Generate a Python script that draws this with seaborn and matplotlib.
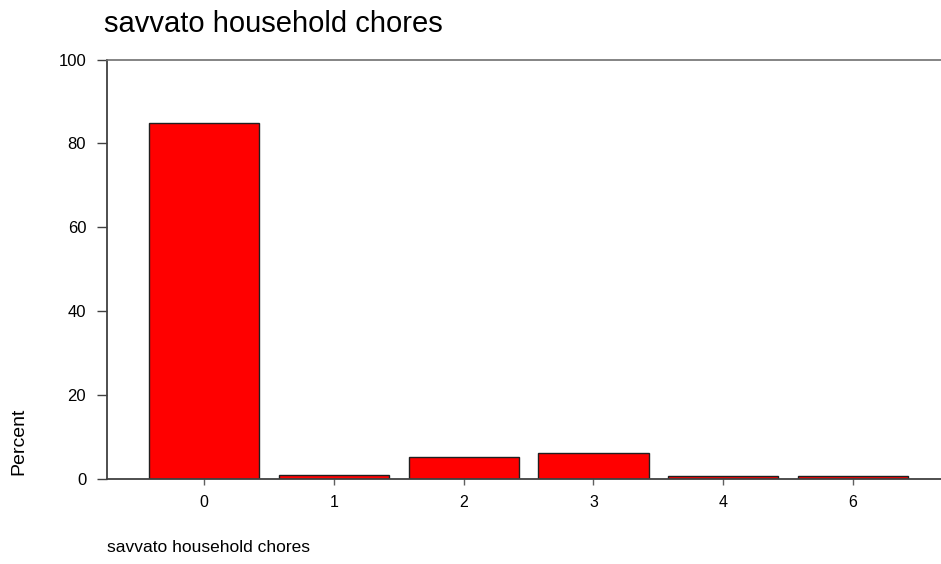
import matplotlib
matplotlib.use("Agg")
import matplotlib.pyplot as plt
import seaborn as sns
import pandas as pd

categories = ["0", "1", "2", "3", "4", "6"]
percent = [84.9, 1.0, 5.2, 6.3, 0.9, 0.9]
yticks = [0, 20, 40, 60, 80, 100]

sns.set_theme(style="white")
plt.rcParams['font.family'] = ['Liberation Sans', 'DejaVu Sans']

df = pd.DataFrame({"cat": categories, "pct": percent})

fig = plt.figure(figsize=(9.41, 5.64), dpi=100)
ax = fig.add_axes([107/941, 1 - 479.3/564, 1 - 107/941, (479.3 - 59.5)/564])

sns.barplot(data=df, x="cat", y="pct", order=categories, color="#ff0000",
            saturation=1, width=0.85, edgecolor="#202020", linewidth=1.0, ax=ax)

ax.set_xlim(-0.75, 5.68)
ax.set_ylim(0, 100)
ax.set_yticks(yticks)
ax.set_yticklabels([str(v) for v in yticks])

for s in ["left", "bottom"]:
    ax.spines[s].set_color("#404040")
    ax.spines[s].set_linewidth(1.3)
ax.spines["top"].set_color("#707070")
ax.spines["top"].set_linewidth(1.2)
ax.spines["right"].set_visible(False)

ax.tick_params(axis="y", direction="out", length=7, width=1, color="#404040",
               labelsize=12, pad=8, left=True)
ax.tick_params(axis="x", direction="out", length=4, width=1, color="#606060",
               labelsize=11.5, pad=7, bottom=True)
for lab in ax.get_xticklabels() + ax.get_yticklabels():
    lab.set_color("#000000")

ax.set_xlabel("")
ax.set_ylabel("")
fig.text(19/941, 1 - 441/564, "Percent", rotation=90, ha="center", va="center",
         fontsize=14, color="#000000")
fig.text(107/941, 1 - 547/564, "savvato household chores", ha="left", va="center",
         fontsize=12.5, color="#000000")
fig.text(104/941, 1 - 24/564, "savvato household chores", ha="left", va="center",
         fontsize=21, color="#000000")

fig.savefig("out.png", dpi=100)
